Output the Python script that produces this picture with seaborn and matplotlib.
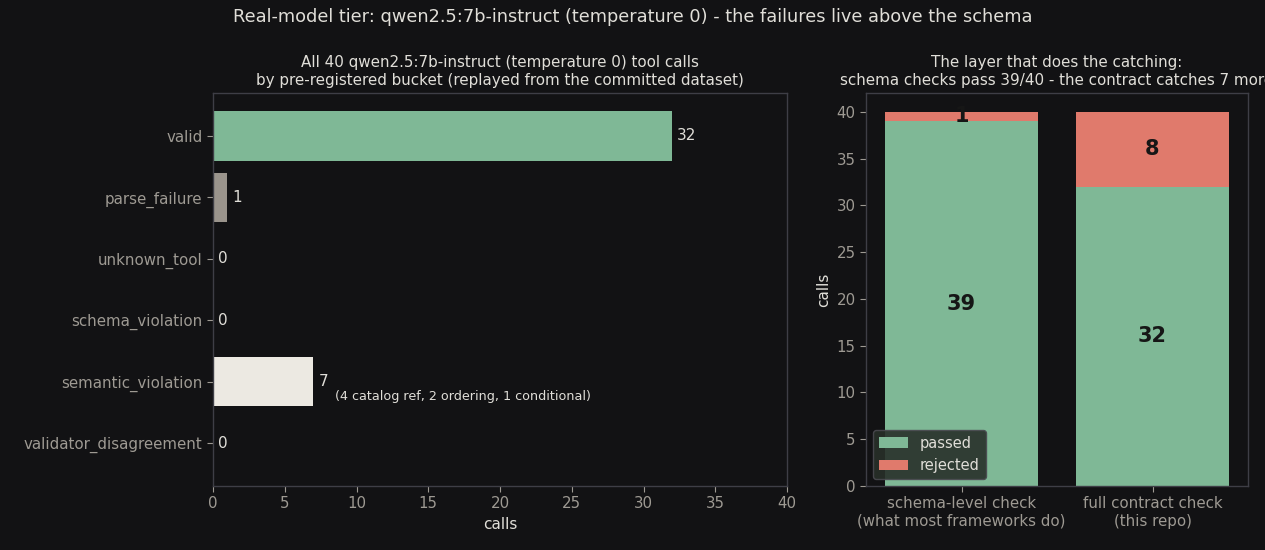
import seaborn as sns
import matplotlib.pyplot as plt
import pandas as pd

# bucket counts for the left panel
buckets = ['valid', 'parse_failure', 'unknown_tool', 'schema_violation',
           'semantic_violation', 'validator_disagreement']
counts = [32, 1, 0, 0, 7, 0]
bucket_colors = ['#7fb896', '#9a948c', '#9a948c', '#9a948c', '#ece9e2', '#9a948c']
semantic_note = '(4 catalog ref, 2 ordering, 1 conditional)'

# passed / rejected for the right panel
checks = ['schema-level check\n(what most frameworks do)', 'full contract check\n(this repo)']
passed = [39, 32]
rejected = [1, 8]

BG = '#121214'
FG = '#e0ded8'
TICK = '#9e9a93'
SPINE = '#3e3e46'
GREEN = '#7fb896'
RED = '#e07a6c'

sns.set_theme(style='dark')
plt.rcParams['font.family'] = ['DejaVu Sans']

fig = plt.figure(figsize=(12.65, 5.5), dpi=100, facecolor=BG)
ax1 = fig.add_axes([213 / 1265, 64 / 550, 574 / 1265, 393 / 550])
ax2 = fig.add_axes([866 / 1265, 64 / 550, 382 / 1265, 393 / 550])


def style(ax):
    ax.set_facecolor(BG)
    ax.grid(False)
    for s in ax.spines.values():
        s.set_visible(True)
        s.set_color(SPINE)
        s.set_linewidth(1)
    ax.tick_params(colors=TICK, labelsize=10.8, length=4, width=0.8,
                   bottom=True, left=True, color=TICK)


# left panel
left = pd.DataFrame({'bucket': buckets, 'calls': counts})
sns.barplot(data=left, y='bucket', x='calls', hue='bucket', palette=bucket_colors,
            order=buckets, width=0.8, legend=False, saturation=1,
            linewidth=0, ax=ax1)
style(ax1)
ax1.set_xlim(0, 40)
ax1.set_ylim(5.7, -0.7)
ax1.set_ylabel('')
ax1.set_xlabel('calls', color=FG, fontsize=11)
for i, v in enumerate(counts):
    ax1.text(v + 0.35, i, str(v), color=FG, fontsize=11, va='center', ha='left')
ax1.text(8.5, buckets.index('semantic_violation') + 0.25, semantic_note,
         color=FG, fontsize=9.2, va='center', ha='left')
ax1.set_title('All 40 qwen2.5:7b-instruct (temperature 0) tool calls\n'
              'by pre-registered bucket (replayed from the committed dataset)',
              color=FG, fontsize=10.9, pad=6)

# right panel: total (rejected shows on top), passed drawn over it
right = pd.DataFrame({'check': checks, 'passed': passed, 'rejected': rejected})
right['total'] = right['passed'] + right['rejected']
sns.barplot(data=right, x='check', y='total', color=RED, saturation=1,
            width=0.8, linewidth=0, ax=ax2, label='rejected')
sns.barplot(data=right, x='check', y='passed', color=GREEN, saturation=1,
            width=0.8, linewidth=0, ax=ax2, label='passed')
style(ax2)
ax2.set_xlim(-0.5, 1.5)
ax2.set_ylim(0, 42)
ax2.set_xlabel('')
ax2.set_ylabel('calls', color=FG, fontsize=11)
for i in range(len(checks)):
    ax2.text(i, passed[i] / 2, str(passed[i]), color='#161616', fontsize=15,
             fontweight='bold', ha='center', va='center')
    ax2.text(i, passed[i] + rejected[i] / 2, str(rejected[i]), color='#161616',
             fontsize=15, fontweight='bold', ha='center', va='center')
handles, labels = ax2.get_legend_handles_labels()
order = [labels.index('passed'), labels.index('rejected')]
leg = ax2.legend([handles[k] for k in order], [labels[k] for k in order],
                 loc='lower left', fontsize=10.5, facecolor='#283029',
                 edgecolor='#4a4a50', labelcolor=FG, framealpha=0.9)
ax2.set_title('The layer that does the catching:\n'
              'schema checks pass 39/40 - the contract catches 7 more',
              color=FG, fontsize=10.9, pad=6)

fig.suptitle('Real-model tier: qwen2.5:7b-instruct (temperature 0) - the failures live above the schema',
             color=FG, fontsize=12.8, y=0.985)

fig.savefig('out.png', dpi=100, facecolor=BG)
